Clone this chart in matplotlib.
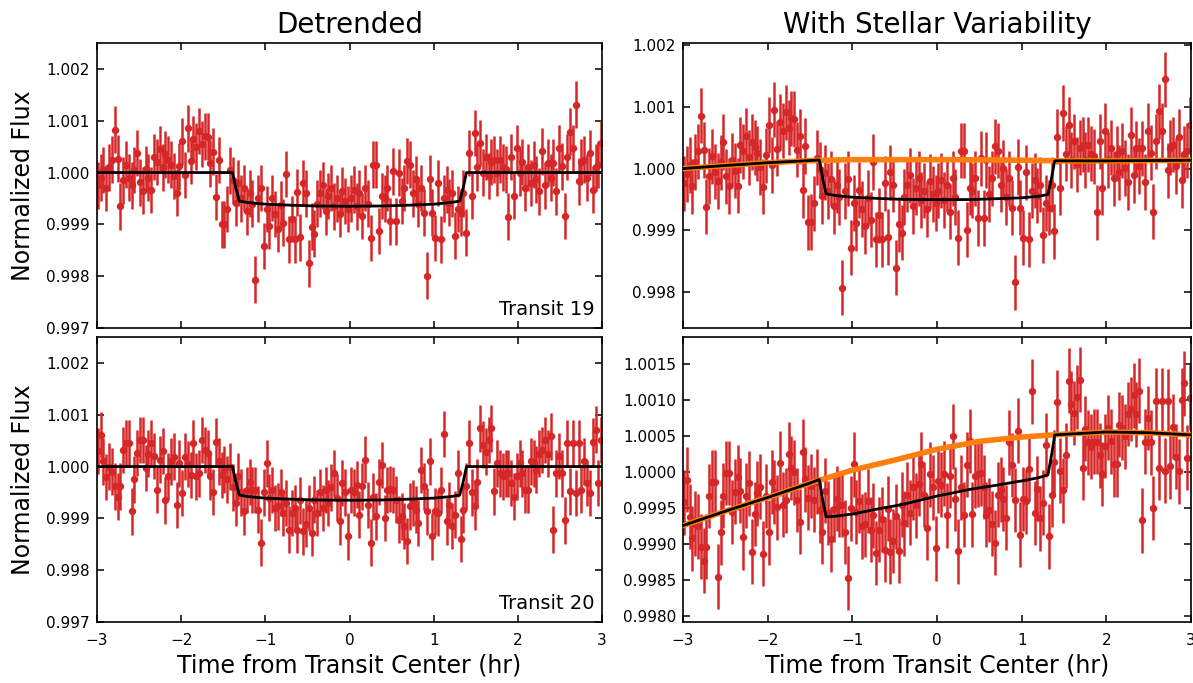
import numpy as np
import matplotlib
matplotlib.use("Agg")
import matplotlib.pyplot as plt
from matplotlib.ticker import FormatStrFormatter

# ---------------- data (flux deviations in ppm) ----------------
n_points = 180
time_hr = np.linspace(-2.99, 2.99, n_points)
flux_err_ppm = 450

det19 = [-250, -100, 50, -300, 100, 250, 830, 270, -650, -150,
         150, -100, -250, 50, 380, -190, -350, 70, -100, -340,
         300, 200, 450, 100, 350, 250, 150, -70, -390, 120,
         600, -50, 850, 220, 650, 500, 800, 550, 700, 690,
         180, 400, -470, 240, -1000, -1000, -700, 40, -150, -580,
         -200, -500, -300, -750, -400, -600, -2070, -500, -300, -1420,
         -700, -1030, -490, -800, -1080, -620, -970, -30, -1290, -900,
         -1290, -380, -1250, -200, -400, -1750, -1045, -1180, -600, -400,
         -250, -750, -450, -300, -650, -500, -800, -350, -550, -700,
         -500, -330, -650, -400, -840, -300, -600, -1260, 150, 150,
         -1130, -450, -500, -300, -940, 25, -940, 0, -550, -300,
         220, 150, -400, -130, -600, -300, -775, -1990, -115, -775,
         -1260, -200, -1290, -500, -330, -580, -400, -1220, -700, -775,
         -400, -1160, 380, -450, 760, 100, 570, 0, 300, -70,
         200, 250, 0, 250, 100, 60, -850, 300, -450, 470,
         0, 200, -300, 100, -200, 150, -130, -360, 410, -250,
         190, -100, 190, -360, 470, 120, -840, 300, 790, 470,
         1310, -170, 200, 250, -100, 380, -330, 100, 150, 570]

det20 = [300, 610, 100, -200, 0, -100, -385, -580, -385, 320,
         450, 450, -865, -250, 260, 510, 510, -30, 250, 450,
         200, -450, 130, 300, -650, -190, 100, 190, -740, 60,
         -510, 190, 50, -160, 450, -190, -130, 510, 320, 260,
         -190, -490, 480, 100, -160, -60, -250, 0, -400, -700,
         -190, -500, -865, -450, -300, -450, -450, -830, -1470, -500,
         60, -600, -450, -800, -770, -500, -900, -700, -1220, -900,
         -800, -1220, -650, -1250, -1100, -800, -1280, -640, -900, -500,
         -800, -450, -700, -400, -130, -600, -1060, -320, -500, -1345,
         -450, -500, -350, -930, -380, 130, -740, -1470, -580, -960,
         -300, 30, -990, -450, -435, -450, -640, -1025, -960, -1150,
         -1440, -770, -700, -830, -1090, -65, -380, -865, 100, -1345,
         -865, -900, -450, 630, -1060, -740, -1150, -930, -130, -1400,
         -830, -380, 450, -500, -770, -300, 740, 420, 290, 510,
         740, -480, 60, -130, -190, -130, -130, -320, -580, -190,
         60, -130, -450, -450, 100, 60, -60, 250, 320, 510,
         250, 580, -1220, -130, 200, -130, -1040, 450, -480, 450,
         -510, 450, -450, 100, -320, -510, 480, 710, -320, 510]

raw19 = [-240, -90, 60, -290, 110, 280, 860, 300, -620, -120,
         200, -50, -200, 100, 430, -125, -285, 135, -35, -275,
         380, 280, 530, 180, 430, 345, 245, 25, -295, 215,
         705, 55, 955, 325, 755, 615, 915, 665, 815, 805,
         305, 525, -345, 365, -875, -865, -565, 175, -15, -445,
         -65, -365, -165, -615, -265, -465, -1935, -365, -165, -1285,
         -560, -890, -350, -660, -940, -480, -830, 110, -1150, -760,
         -1150, -240, -1110, -60, -260, -1610, -905, -1040, -460, -260,
         -110, -610, -310, -160, -510, -360, -660, -210, -410, -560,
         -360, -190, -510, -260, -700, -160, -460, -1120, 290, 290,
         -990, -310, -360, -160, -800, 165, -800, 140, -410, -160,
         360, 290, -260, 10, -460, -160, -635, -1850, 25, -635,
         -1120, -60, -1150, -360, -190, -440, -260, -1080, -560, -635,
         -260, -1020, 520, -310, 900, 240, 710, 140, 440, 70,
         340, 390, 140, 390, 240, 200, -710, 440, -310, 610,
         140, 340, -160, 240, -60, 290, 10, -220, 550, -110,
         330, 40, 330, -220, 610, 260, -700, 440, 930, 610,
         1450, -30, 340, 390, 40, 520, -190, 240, 290, 710]

raw20 = [-415, -105, -615, -915, -715, -750, -1035, -1230, -1035, -330,
         -135, -135, -1450, -835, -325, -10, -10, -550, -270, -70,
         -255, -905, -325, -155, -1105, -580, -290, -200, -1130, -330,
         -835, -135, -275, -485, 125, -450, -390, 250, 60, 0,
         -385, -685, 285, -95, -355, -190, -380, -130, -530, -830,
         -255, -565, -930, -515, -365, -450, -450, -830, -1470, -500,
         110, -550, -400, -750, -720, -400, -800, -600, -1120, -800,
         -655, -1075, -505, -1105, -955, -610, -1090, -450, -710, -310,
         -560, -210, -460, -160, 110, -310, -770, -30, -210, -1055,
         -120, -170, -20, -600, -50, 500, -370, -1100, -210, -590,
         105, 435, -585, -45, -30, -15, -205, -590, -525, -715,
         -980, -310, -240, -370, -630, 415, 100, -385, 580, -865,
         -370, -405, 45, 1125, -565, -230, -640, -420, 380, -890,
         -310, 140, 970, 20, -250, 235, 1275, 955, 825, 1045,
         1285, 65, 605, 415, 355, 425, 425, 235, -25, 365,
         620, 430, 110, 110, 660, 620, 500, 810, 880, 1070,
         805, 1135, -665, 425, 755, 415, -495, 995, 65, 995,
         25, 985, 85, 635, 215, 15, 1005, 1235, 205, 1035]

# transit model (detrended), read at knots
model_t = [-3, -2.5, -2, -1.5, -1.39, -1.35, -1.31, -1.2, -1.0, -0.7, -0.4, 0,
           0.4, 0.7, 1.0, 1.2, 1.31, 1.35, 1.39, 2, 2.5, 3]
model_det = [0, 0, 0, 0, 0, -300, -550, -580, -610, -630, -645, -650,
             -645, -630, -610, -580, -550, -300, 0, 0, 0, 0]
model19 = [0, 50, 95, 130, 140, -160, -410, -438, -465, -485, -500, -505,
           -503, -490, -475, -450, -422, -173, 126, 125, 130, 135]
model20 = [-740, -540, -350, -150, -100, -385, -620, -610, -580, -510, -445, -330,
           -235, -180, -120, -75, -35, 218, 520, 560, 550, 520]

# stellar variability trend, read at knots
trend_t = [-3, -2.5, -2, -1.5, -1, -0.5, 0, 0.5, 1, 1.5, 2, 2.5, 3]
trend19 = [0, 50, 95, 130, 145, 145, 145, 142, 135, 125, 125, 130, 135]
trend20 = [-740, -540, -350, -150, 30, 170, 320, 430, 490, 530, 560, 550, 520]

xticks = [-3, -2, -1, 0, 1, 2, 3]
left_yticks = [0.997, 0.998, 0.999, 1.000, 1.001, 1.002]
rt_yticks = [0.998, 0.999, 1.000, 1.001, 1.002]
rb_yticks = [0.9980, 0.9985, 0.9990, 0.9995, 1.0000, 1.0005, 1.0010, 1.0015]


def to_flux(ppm):
    return 1.0 + np.asarray(ppm, dtype=float) * 1e-6


RED = '#d62728'
ORANGE = '#ff7f0e'

fig = plt.figure(figsize=(11.93, 6.83), dpi=100)
W, H = 1193, 683


def add_ax(x0, y0, x1, y1):
    return fig.add_axes([x0 / W, 1 - y1 / H, (x1 - x0) / W, (y1 - y0) / H])


ax_lt = add_ax(97, 43, 602, 328)
ax_lb = add_ax(97, 337, 602, 622)
ax_rt = add_ax(683, 43, 1191, 328)
ax_rb = add_ax(683, 337, 1191, 622)


def draw_data(ax, ppm):
    ax.errorbar(time_hr, to_flux(ppm), yerr=flux_err_ppm * 1e-6, fmt='o',
                color=RED, ecolor=RED, elinewidth=1.8, markersize=4.3,
                capsize=0, zorder=2)


draw_data(ax_lt, det19)
draw_data(ax_lb, det20)
draw_data(ax_rt, raw19)
draw_data(ax_rb, raw20)

for ax in (ax_lt, ax_lb):
    ax.plot(model_t, to_flux(model_det), color='black', lw=2, zorder=4)

ax_rt.plot(trend_t, to_flux(trend19), color=ORANGE, lw=4, zorder=3)
ax_rt.plot(model_t, to_flux(model19), color='black', lw=2, zorder=4)
ax_rb.plot(trend_t, to_flux(trend20), color=ORANGE, lw=4, zorder=3)
ax_rb.plot(model_t, to_flux(model20), color='black', lw=2, zorder=4)

for ax in (ax_lt, ax_lb, ax_rt, ax_rb):
    ax.set_xlim(-3, 3)
    ax.set_xticks(xticks)
    ax.tick_params(direction='in', top=True, right=True, length=5, width=1.1,
                   labelsize=11)
    ax.tick_params(axis='x', pad=8)
    ax.tick_params(axis='y', pad=5)
    for s in ax.spines.values():
        s.set_linewidth(1.2)

for ax in (ax_lt, ax_lb):
    ax.set_ylim(0.997, 1.0025)
    ax.set_yticks(left_yticks)
    ax.yaxis.set_major_formatter(FormatStrFormatter('%.3f'))
    ax.set_ylabel('Normalized Flux', fontsize=17, labelpad=8)

ax_rt.set_ylim(0.99741, 1.00204)
ax_rt.set_yticks(rt_yticks)
ax_rt.yaxis.set_major_formatter(FormatStrFormatter('%.3f'))
ax_rb.set_ylim(0.99792, 1.00188)
ax_rb.set_yticks(rb_yticks)
ax_rb.yaxis.set_major_formatter(FormatStrFormatter('%.4f'))

for ax in (ax_lt, ax_rt):
    ax.tick_params(labelbottom=False)
for ax in (ax_lb, ax_rb):
    ax.set_xlabel('Time from Transit Center (hr)', fontsize=17, labelpad=4)

ax_lt.set_title('Detrended', fontsize=20, pad=7)
ax_rt.set_title('With Stellar Variability', fontsize=20, pad=7)

ax_lt.text(0.985, 0.03, 'Transit 19', transform=ax_lt.transAxes,
           ha='right', va='bottom', fontsize=14)
ax_lb.text(0.985, 0.03, 'Transit 20', transform=ax_lb.transAxes,
           ha='right', va='bottom', fontsize=14)

fig.savefig('out.png', dpi=100)
